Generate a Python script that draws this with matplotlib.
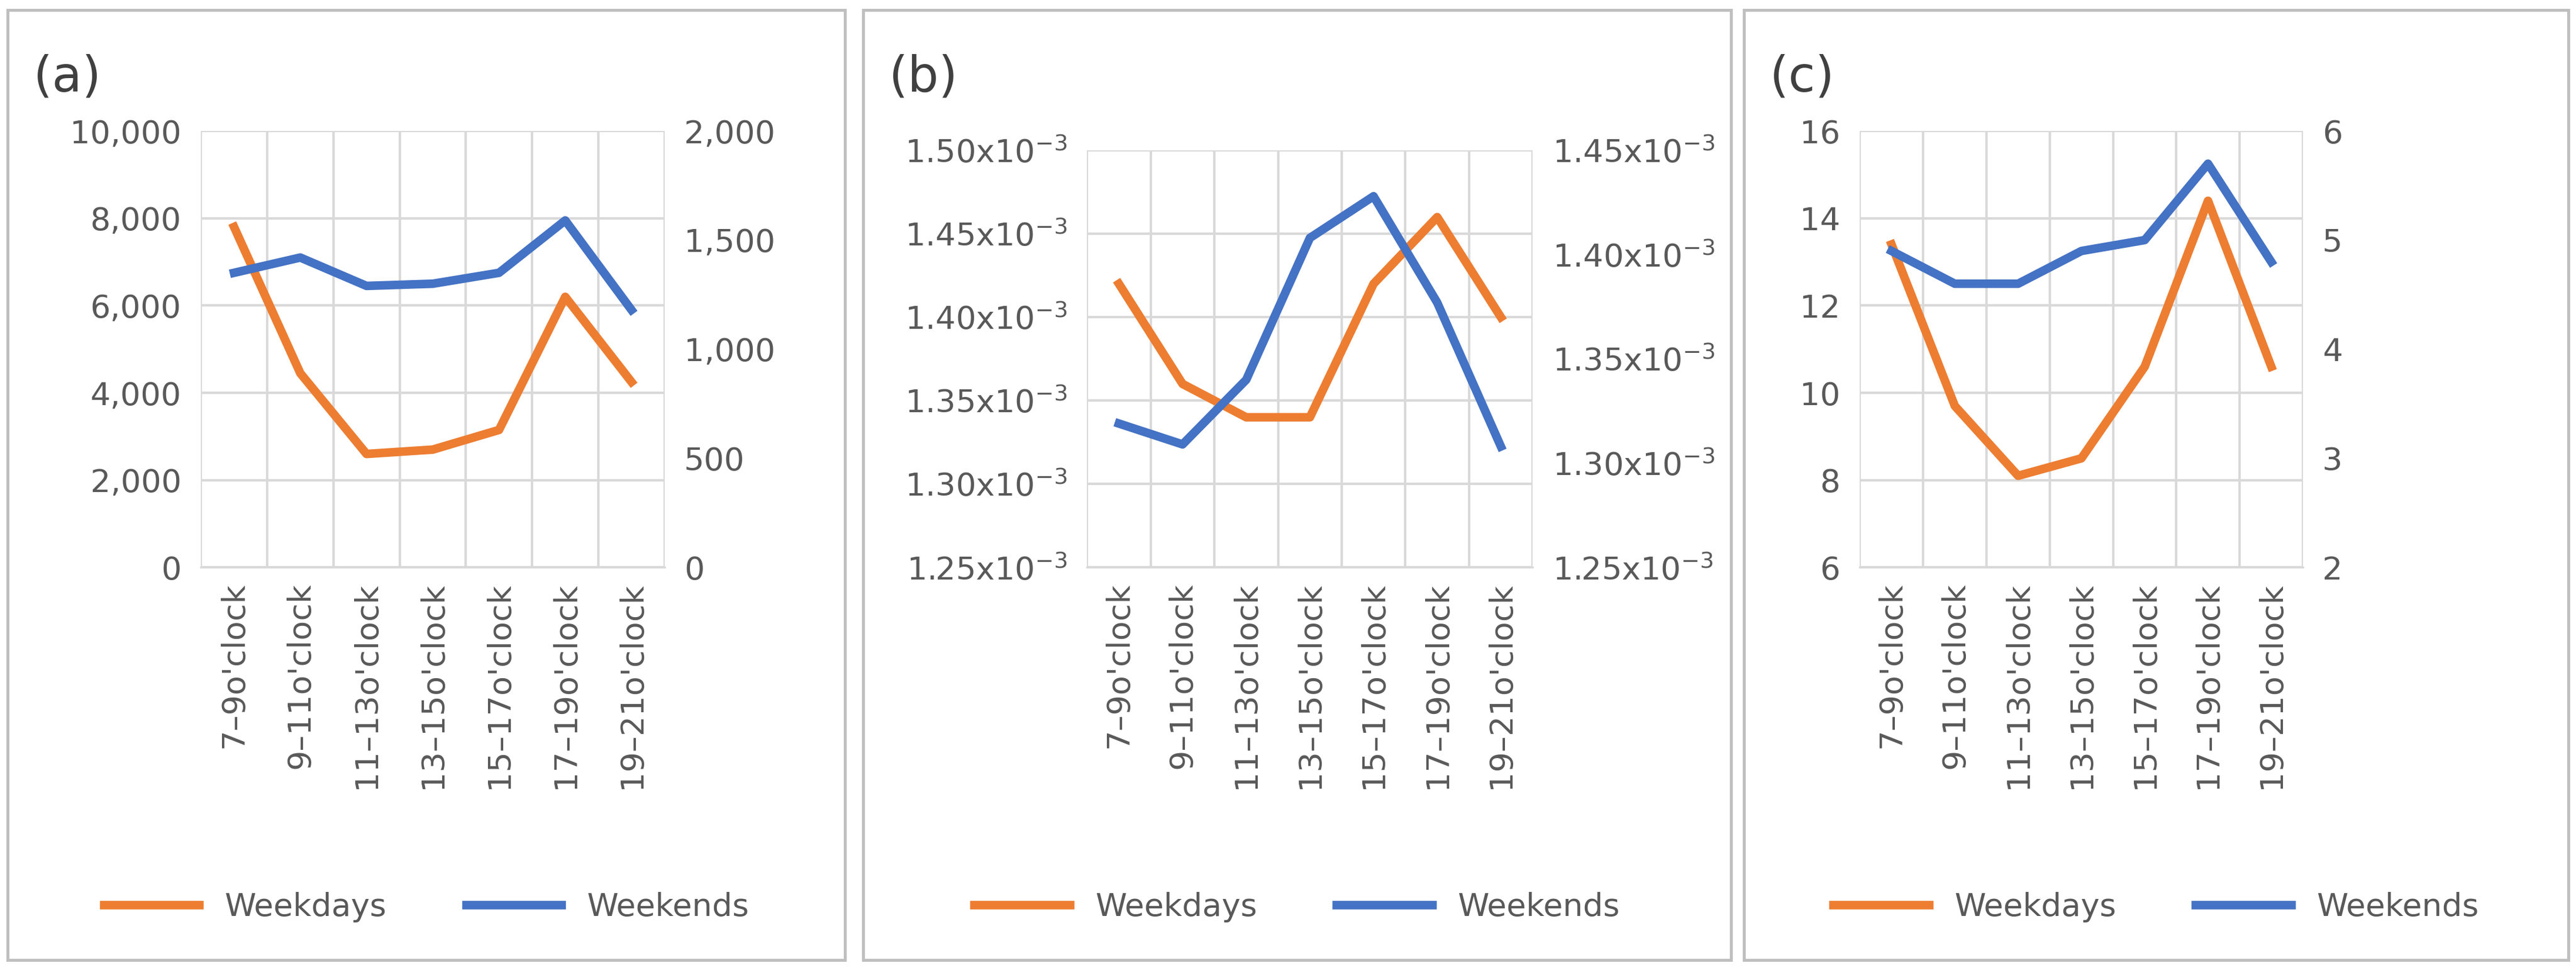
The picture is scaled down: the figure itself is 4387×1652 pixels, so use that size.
import numpy as np
import matplotlib.pyplot as plt
from matplotlib.patches import Rectangle
from matplotlib.ticker import FuncFormatter, MultipleLocator

hours = ["7\u20139o'clock", "9\u201311o'clock", "11\u201313o'clock", "13\u201315o'clock",
         "15\u201317o'clock", "17\u201319o'clock", "19\u201321o'clock"]

a_weekdays = [7800, 4450, 2600, 2700, 3150, 6200, 4250]
a_weekends = [1350, 1420, 1290, 1300, 1350, 1590, 1180]
b_weekdays = [1.42e-3, 1.36e-3, 1.34e-3, 1.34e-3, 1.42e-3, 1.46e-3, 1.40e-3]
b_weekends = [1.319e-3, 1.309e-3, 1.340e-3, 1.408e-3, 1.428e-3, 1.377e-3, 1.308e-3]
c_weekdays = [13.4, 9.7, 8.1, 8.5, 10.6, 14.4, 10.6]
c_weekends = [4.9, 4.6, 4.6, 4.9, 5.0, 5.7, 4.8]

orange = '#ED7D31'
blue = '#4472C4'
tc = '#595959'
fs = 13

fig = plt.figure(figsize=(4387 / 300, 1652 / 300), dpi=300)

thou = FuncFormatter(lambda v, p: f'{v:,.0f}')
sci = FuncFormatter(lambda v, p: f'{v*1e3:.2f}x10$^{{-3}}$')
plain = FuncFormatter(lambda v, p: f'{v:.0f}')

panels = [
    ('(a)', a_weekdays, a_weekends, (0, 10000, 2000), (0, 2000, 500), thou, thou,
     [0.078, 0.415, 0.180, 0.45], (0.003, 0.328)),
    ('(b)', b_weekdays, b_weekends, (1.25e-3, 1.50e-3, 0.05e-3), (1.25e-3, 1.45e-3, 0.05e-3), sci, sci,
     [0.422, 0.415, 0.173, 0.43], (0.335, 0.672)),
    ('(c)', c_weekdays, c_weekends, (6, 16, 2), (2, 6, 1), plain, plain,
     [0.722, 0.415, 0.172, 0.45], (0.677, 0.997)),
]

x = np.arange(len(hours))
for label, wd, we, lrng, rrng, lf, rf, pos, (bx0, bx1) in panels:
    fig.add_artist(Rectangle((bx0, 0.01), bx1 - bx0, 0.98, transform=fig.transFigure,
                             fill=False, edgecolor='#BFBFBF', lw=1.2))
    ax = fig.add_axes(pos)
    ax2 = ax.twinx()
    ax.set_ylim(lrng[0], lrng[1])
    ax.yaxis.set_major_locator(MultipleLocator(lrng[2]))
    ax2.set_ylim(rrng[0], rrng[1])
    ax2.yaxis.set_major_locator(MultipleLocator(rrng[2]))
    ax.yaxis.set_major_formatter(lf)
    ax2.yaxis.set_major_formatter(rf)
    ax.grid(axis='y', color='#D9D9D9', lw=1)
    ax.grid(axis='x', color='#D9D9D9', lw=1)
    ax.set_xticks(np.arange(-0.5, len(hours)), minor=False)
    ax.set_xticklabels([])
    ax.set_xticks(x, minor=True)
    ax.set_xticklabels(hours, minor=True, rotation=90, fontsize=fs, color=tc)
    ax.tick_params(axis='x', which='both', length=0, pad=6)
    ax.set_xlim(-0.5, len(hours) - 0.5)
    l1, = ax.plot(x, wd, color=orange, lw=3.5, label='Weekdays')
    l2, = ax2.plot(x, we, color=blue, lw=3.5, label='Weekends')
    for a in (ax, ax2):
        for s in a.spines.values():
            s.set_visible(False)
        a.tick_params(axis='y', length=0, labelsize=fs, labelcolor=tc, pad=8)
    ax.spines['bottom'].set_visible(True)
    ax.spines['bottom'].set_color('#D9D9D9')
    cx = (bx0 + bx1) / 2
    fig.legend(handles=[l1, l2], loc='center', bbox_to_anchor=(cx, 0.065), ncol=2,
               frameon=False, fontsize=fs, labelcolor=tc, handlelength=3, columnspacing=2.5)
    fig.text(bx0 + 0.01, 0.92, label, fontsize=20, color='#404040', va='center')

fig.savefig('out.png', dpi=300)
